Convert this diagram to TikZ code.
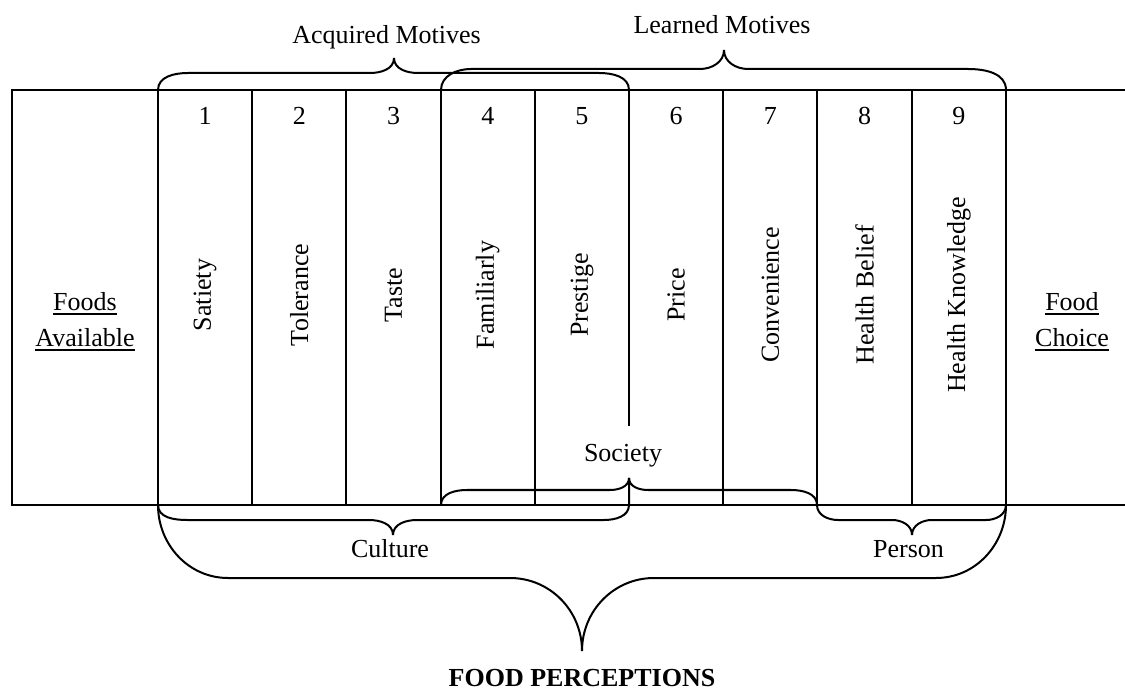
\documentclass[tikz,border=0pt]{standalone}
\usepackage{fontspec}
\setmainfont{Liberation Serif}

\begin{document}
\begin{tikzpicture}[x=1pt, y=-1pt,
    frame/.style={line width=2pt},
    bracepath/.style={line width=2pt, line join=round},
    lbl/.style={font=\fontsize{26}{36}\selectfont, inner sep=0pt},
    motive/.style={lbl, rotate=90},
    uline/.style={line width=1.5pt}]

  \useasboundingbox (0,0) rectangle (1125,692);

  % Outer frame (open on the right)
  \draw[frame] (1130,90) -- (12,90) -- (12,505) -- (1130,505);

  % Column lines
  \foreach \x in {158,252,346,441,535,723,817,912,1006} {
    \draw[frame] (\x,90) -- (\x,505);
  }
  \draw[frame] (629,90) -- (629,426);

  % Column numbers
  \foreach \i in {1,...,9} {
    \node[lbl, anchor=base] (num\i) at ({158+94.22*(\i-0.5)},125) {\i};
  }

  % Motive labels
  \foreach \i/\name/\txt in {1/sat/Satiety, 2/tol/Tolerance, 3/tas/Taste,
                             4/fam/Familiarly, 5/pre/Prestige, 6/pri/Price,
                             7/con/Convenience, 8/hb/Health Belief, 9/hk/Health Knowledge} {
    \node[motive] (\name) at ({158+94.22*(\i-0.5)},295) {\txt};
  }

  % Left and right boxes
  \node[lbl, anchor=base] (foods) at (85,311) {Foods};
  \node[lbl, anchor=base] (avail) at (85,347) {Available};
  \node[lbl, anchor=base] (food) at (1072,311) {Food};
  \node[lbl, anchor=base] (choice) at (1072,347) {Choice};
  \foreach \n in {foods,avail,food,choice} {
    \draw[uline] ([yshift=-3pt]\n.base west) -- ([yshift=-3pt]\n.base east);
  }

  % Top braces
  \draw[bracepath] (158,90) to[out=90,in=180] (188,73) -- (370,73) to[out=0,in=-90] (394,58);
  \draw[bracepath] (629,90) to[out=90,in=0] (599,73) -- (418,73) to[out=180,in=-90] (394,58);
  \draw[bracepath] (441,90) to[out=90,in=180] (471,69) -- (700,69) to[out=0,in=-90] (724,50);
  \draw[bracepath] (1006,90) to[out=90,in=0] (968,69) -- (748,69) to[out=180,in=-90] (724,50);

  % Society brace
  \draw[bracepath] (441,505) to[out=90,in=180] (467,490) -- (610,490) to[out=0,in=-90] (629,478);
  \draw[bracepath] (817,505) to[out=90,in=0] (791,490) -- (648,490) to[out=180,in=-90] (629,478);

  % Culture brace
  \draw[bracepath] (158,505) to[out=-90,in=180] (187,520) -- (369,520) to[out=0,in=90] (393,535);
  \draw[bracepath] (629,478) -- (629,505) to[out=-90,in=0] (604,520) -- (417,520) to[out=180,in=90] (393,535);

  % Person brace
  \draw[bracepath] (817,505) to[out=-90,in=180] (838,520) -- (892,520) to[out=0,in=90] (912,535);
  \draw[bracepath] (1006,505) to[out=-90,in=0] (986,520) -- (932,520) to[out=180,in=90] (912,535);

  % Big brace
  \draw[bracepath] (158,505) to[out=-90,in=180] (228,578) -- (510,578) to[out=0,in=90] (582,651);
  \draw[bracepath] (1006,505) to[out=-90,in=0] (936,578) -- (654,578) to[out=180,in=90] (582,651);

  % Brace labels
  \node[lbl, anchor=base] (acq) at (386.5,44) {Acquired Motives};
  \node[lbl, anchor=base] (lrn) at (722,34) {Learned Motives};
  \node[lbl, anchor=base] (soc) at (623,462) {Society};
  \node[lbl, anchor=base] (cul) at (390,557) {Culture};
  \node[lbl, anchor=base] (per) at (908.5,557) {Person};
  \node[lbl, anchor=base, font=\fontsize{26}{36}\selectfont\bfseries] (fp) at (582,686) {FOOD PERCEPTIONS};

\end{tikzpicture}
\end{document}
